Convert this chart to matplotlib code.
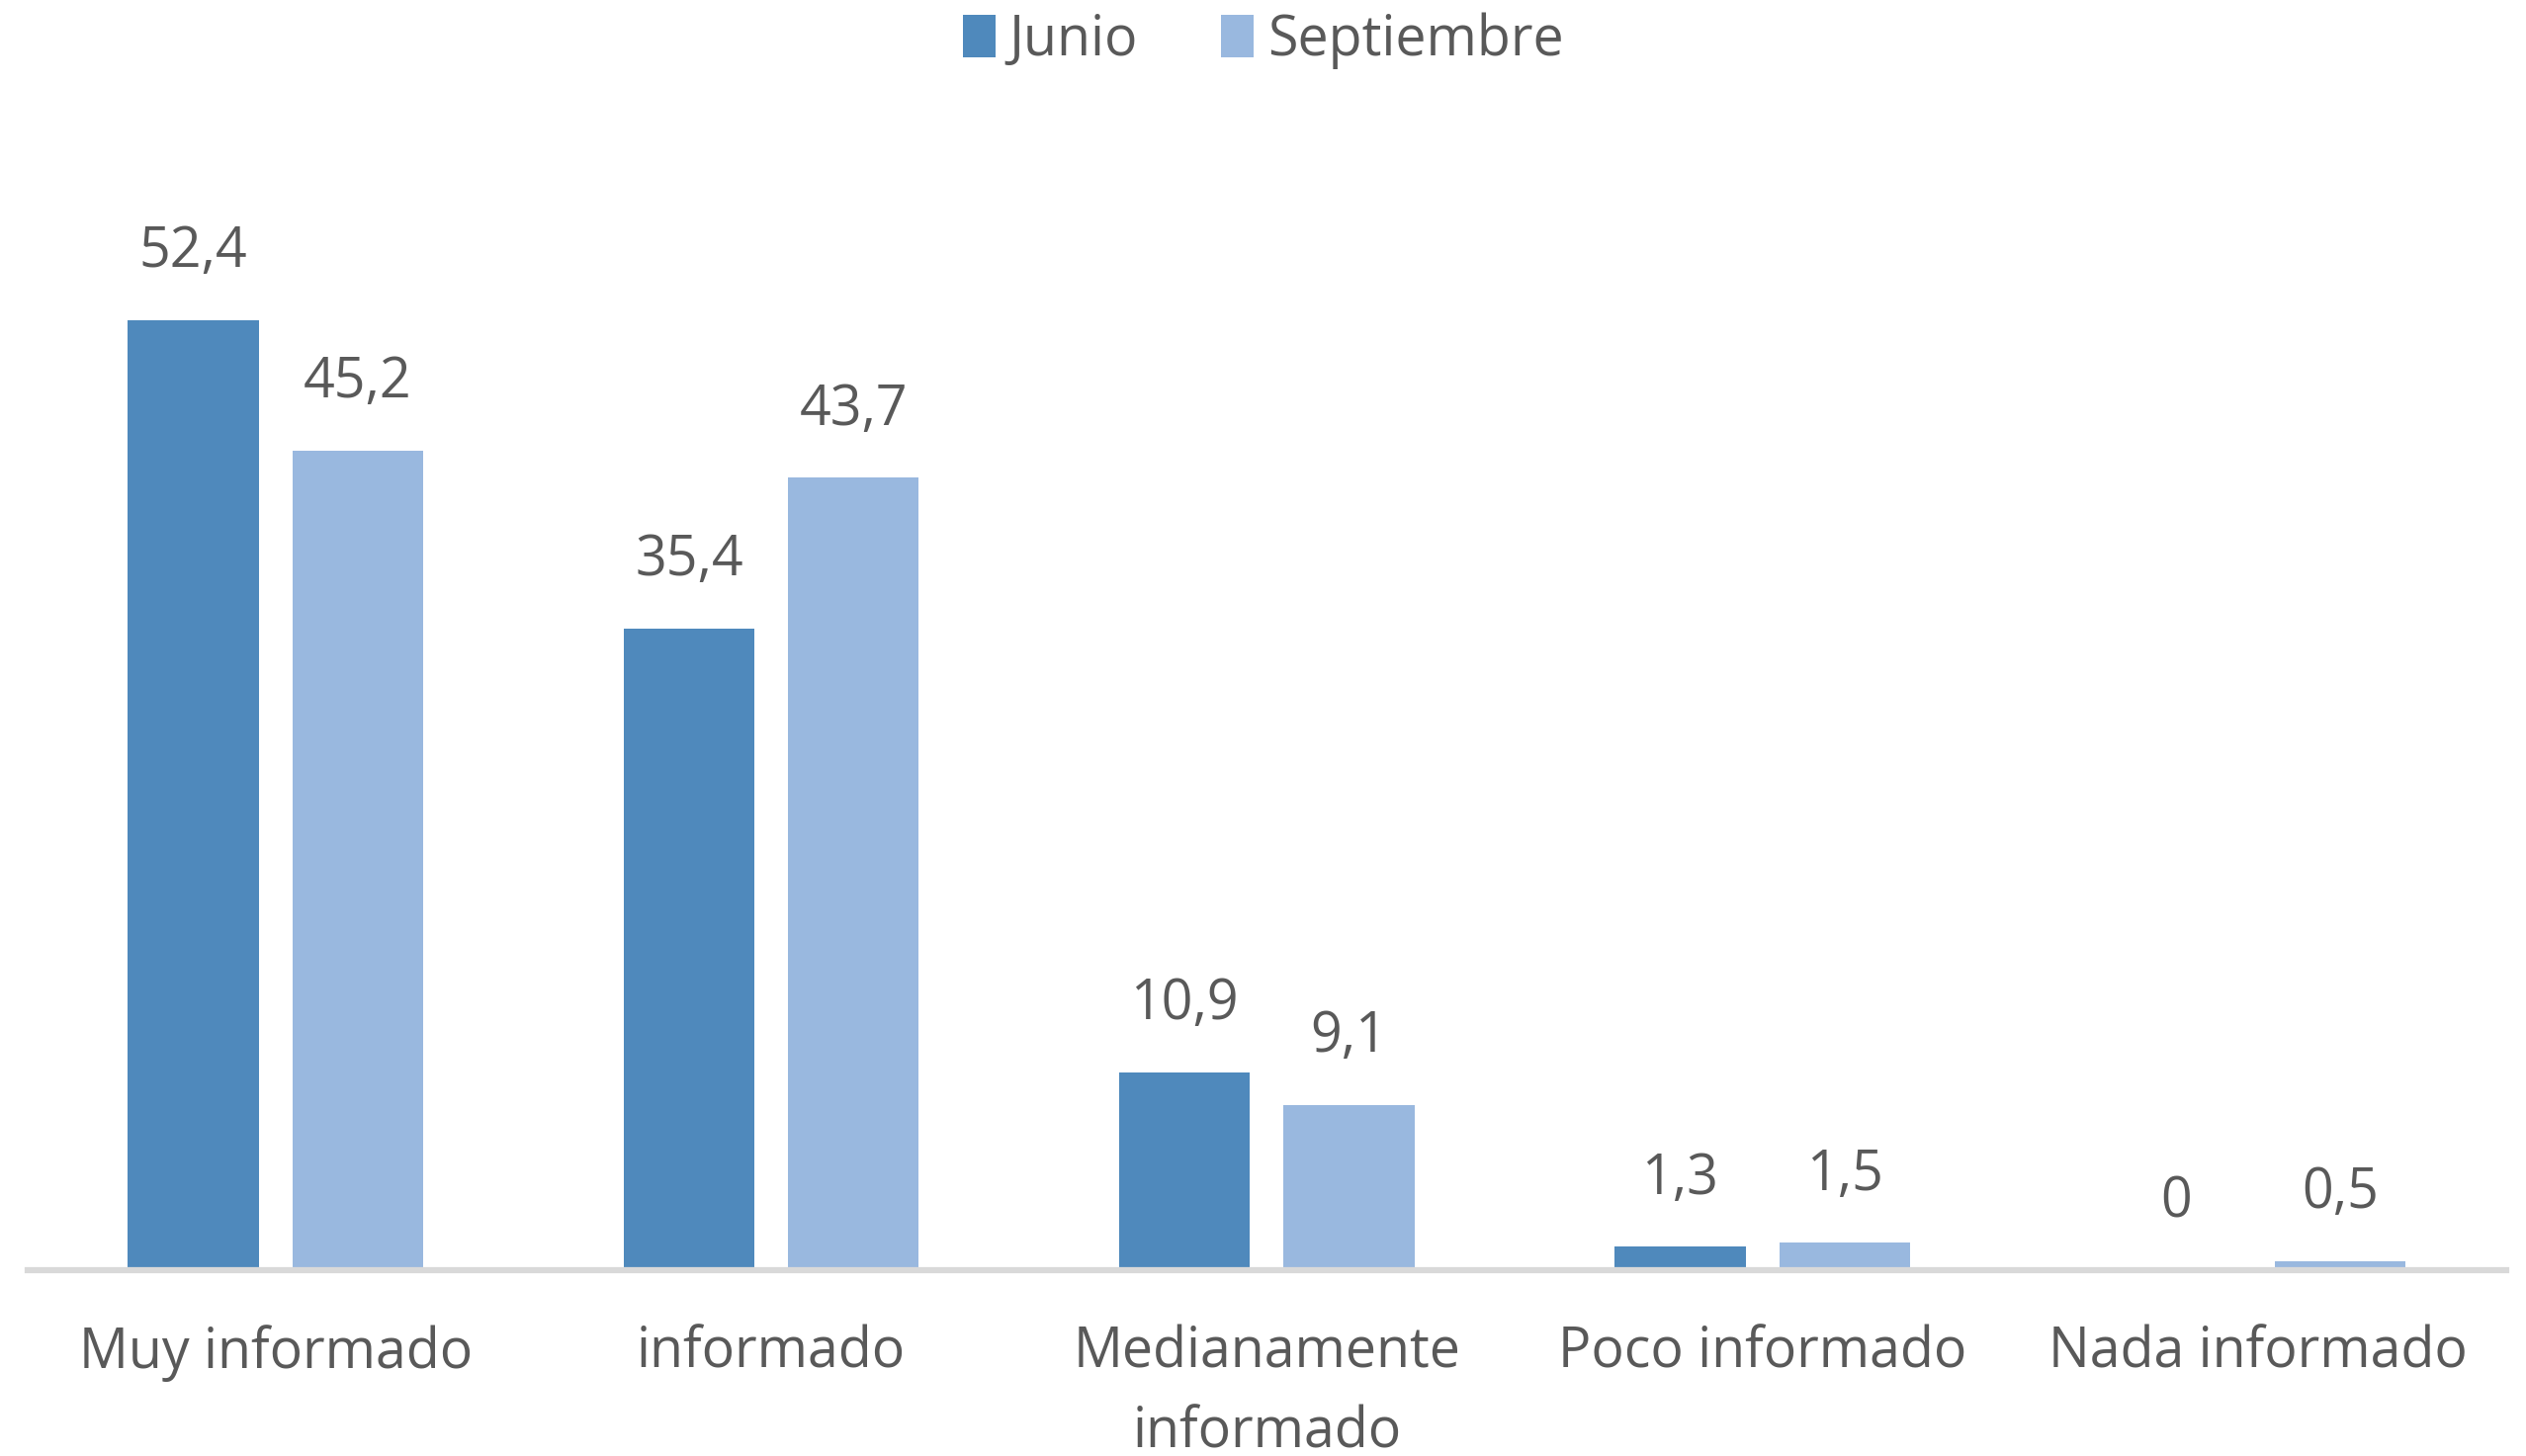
import numpy as np
import matplotlib.pyplot as plt

# Data
categories = ['Muy informado', 'informado', 'Medianamente\ninformado',
              'Poco informado', 'Nada informado']
junio = [52.4, 35.4, 10.9, 1.3, 0.0]
septiembre = [45.2, 43.7, 9.1, 1.5, 0.5]
series_names = ['Junio', 'Septiembre']

c_junio = '#4F89BC'
c_sept = '#99B8DF'
txt = '#595959'

plt.rcParams['font.family'] = ['Open Sans', 'DejaVu Sans']

fig = plt.figure(figsize=(25.55, 14.73), dpi=100)
ax = fig.add_axes([0.011, 0.1277, 0.981, 0.747])

x = np.arange(len(categories))
w = 0.264
off = 0.166
b1 = ax.bar(x - off, junio, w, color=c_junio, label=series_names[0])
b2 = ax.bar(x + off, septiembre, w, color=c_sept, label=series_names[1])

def fmt(v):
    return f'{v:g}'.replace('.', ',')

for bars, vals in ((b1, junio), (b2, septiembre)):
    for b, v in zip(bars, vals):
        ax.annotate(fmt(v), (b.get_x() + b.get_width() / 2, v),
                    xytext=(0, 49), textcoords='offset points',
                    ha='center', va='center', fontsize=40, color=txt)

ax.set_xlim(-0.5, len(categories) - 0.5)
ax.set_ylim(0, 60)
ax.set_xticks(x)
ax.set_xticklabels(categories, fontsize=40, color=txt, linespacing=1.55)
ax.tick_params(axis='x', length=0, pad=40)
ax.set_yticks([])
for s in ('top', 'right', 'left'):
    ax.spines[s].set_visible(False)
ax.spines['bottom'].set_color('#D9D9D9')
ax.spines['bottom'].set_linewidth(4.5)

fig.legend(loc='center', bbox_to_anchor=(0.5, 0.972), ncol=2, frameon=False,
           fontsize=40, labelcolor=txt, handlelength=0.6, handleheight=0.8,
           handletextpad=0.25, columnspacing=1.5)

fig.savefig('out.png', dpi=100, facecolor='white')
